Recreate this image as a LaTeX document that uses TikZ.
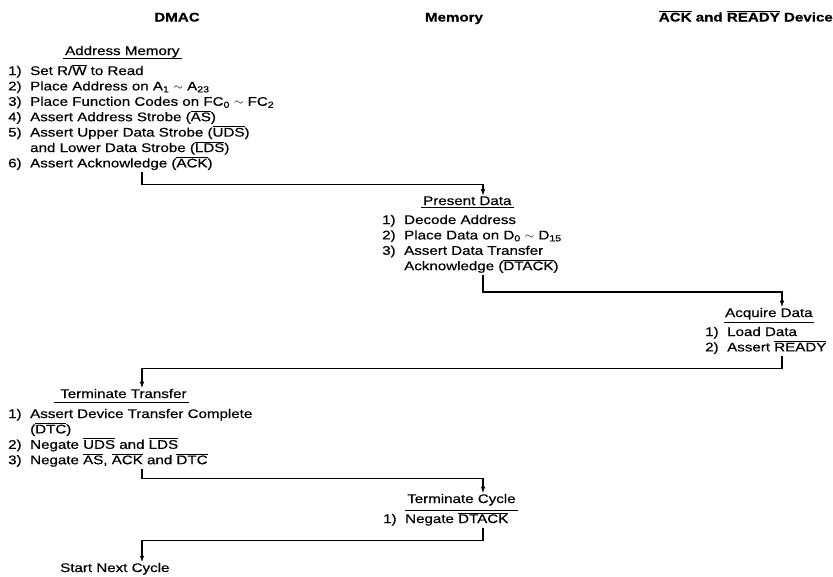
\documentclass[tikz,border=0pt]{standalone}
\usepackage{fontspec}
\setmainfont{Liberation Sans}[FakeStretch=1.21,FakeBold=0.5]
\usetikzlibrary{arrows.meta}
\newcommand{\ovl}[1]{\smash{$\overline{\mbox{#1}}$}}
\newcommand{\numitem}[1]{\makebox[22pt][l]{#1}}
\newcommand{\subs}[1]{\textsubscript{#1}}
\tikzset{
  txt/.style={inner sep=0pt, anchor=base west, font=\fontsize{12.5}{15.4}\selectfont},
  head/.style={inner sep=0pt, anchor=base, font=\fontsize{12.5}{15.4}\selectfont\bfseries},
  conn/.style={line width=1.4pt, -{Latex[length=7pt,width=4.5pt]}},
  uline/.style={line width=0.9pt}
}
\begin{document}
\begin{tikzpicture}[x=1pt,y=-1pt]
\useasboundingbox (0,0) rectangle (833,576);
% column coordinates
\coordinate (xD) at (142,0);
\coordinate (xM) at (483,0);
\coordinate (xR) at (782,0);
% headers
\node[head] (hD) at (177,21.5) {DMAC};
\node[head] (hM) at (454,21.5) {Memory};
\node[head, anchor=base east] (hR) at (833,21.5) {\ovl{ACK} and \ovl{READY} Device};
% Address Memory
\node[txt] (amt) at (65,55) {Address Memory};
\draw[uline] ([xshift=-2pt,yshift=-3.5pt]amt.base west) -- ([xshift=2pt,yshift=-3.5pt]amt.base east);
\node[txt] (am) at (8,75) {\begin{tabular}[t]{@{}l@{}}
\numitem{1)}Set R/\ovl{W} to Read\\
\numitem{2)}Place Address on A\subs{1} $\sim$ A\subs{23}\\
\numitem{3)}Place Function Codes on FC\subs{0} $\sim$ FC\subs{2}\\
\numitem{4)}Assert Address Strobe (\ovl{AS})\\
\numitem{5)}Assert Upper Data Strobe (\ovl{UDS})\\
\numitem{}and Lower Data Strobe (\ovl{LDS})\\
\numitem{6)}Assert Acknowledge (\ovl{ACK})
\end{tabular}};
% Present Data
\node[txt] (pdt) at (423,205) {Present Data};
\draw[uline] ([xshift=-2pt,yshift=-2.5pt]pdt.base west) -- ([xshift=2pt,yshift=-2.5pt]pdt.base east);
\node[txt] (pd) at (382,224) {\begin{tabular}[t]{@{}l@{}}
\numitem{1)}Decode Address\\
\numitem{2)}Place Data on D\subs{0} $\sim$ D\subs{15}\\
\numitem{3)}Assert Data Transfer\\
\numitem{}Acknowledge (\ovl{DTACK})
\end{tabular}};
% Acquire Data
\node[txt] (adt) at (725,317) {Acquire Data};
\draw[uline] ([xshift=-1pt,yshift=-5pt]adt.base west) -- ([xshift=1pt,yshift=-5pt]adt.base east);
\node[txt] (ad) at (705,336) {\begin{tabular}[t]{@{}l@{}}
\numitem{1)}Load Data\\
\numitem{2)}Assert \ovl{READY}
\end{tabular}};
% Terminate Transfer
\node[txt] (ttt) at (60,398) {Terminate Transfer};
\draw[uline] ([xshift=-6pt,yshift=-4pt]ttt.base west) -- ([xshift=2pt,yshift=-4pt]ttt.base east);
\node[txt] (tt) at (8,418) {\begin{tabular}[t]{@{}l@{}}
\numitem{1)}Assert Device Transfer Complete\\
\numitem{}(\ovl{DTC})\\
\numitem{2)}Negate \ovl{UDS} and \ovl{LDS}\\
\numitem{3)}Negate \ovl{AS}, \ovl{ACK} and \ovl{DTC}
\end{tabular}};
% Terminate Cycle
\node[txt] (tct) at (407,503) {Terminate Cycle};
\draw[uline] ([xshift=-2pt,yshift=-7pt]tct.base west) -- ([xshift=2pt,yshift=-7pt]tct.base east);
\node[txt] (tc) at (383,523) {\begin{tabular}[t]{@{}l@{}}
\numitem{1)}Negate \ovl{DTACK}
\end{tabular}};
% Start Next Cycle
\node[txt] (snc) at (60,572) {Start Next Cycle};
% connectors
\draw[conn] (am.south -| xD) -- ++(0,12) -| (pdt.north -| xM);
\draw[conn] (pd.south -| xM) -- ++(0,17) -| (adt.north -| xR);
\draw[conn] (ad.south -| xR) -- ++(0,12.5) -| (ttt.north -| xD);
\draw[conn] (tt.south -| xD) -- ++(0,9.5) -| (tct.north -| xM);
\draw[conn] (tc.south -| xM) -- ++(0,12.5) -| (snc.north -| xD);
\end{tikzpicture}
\end{document}
